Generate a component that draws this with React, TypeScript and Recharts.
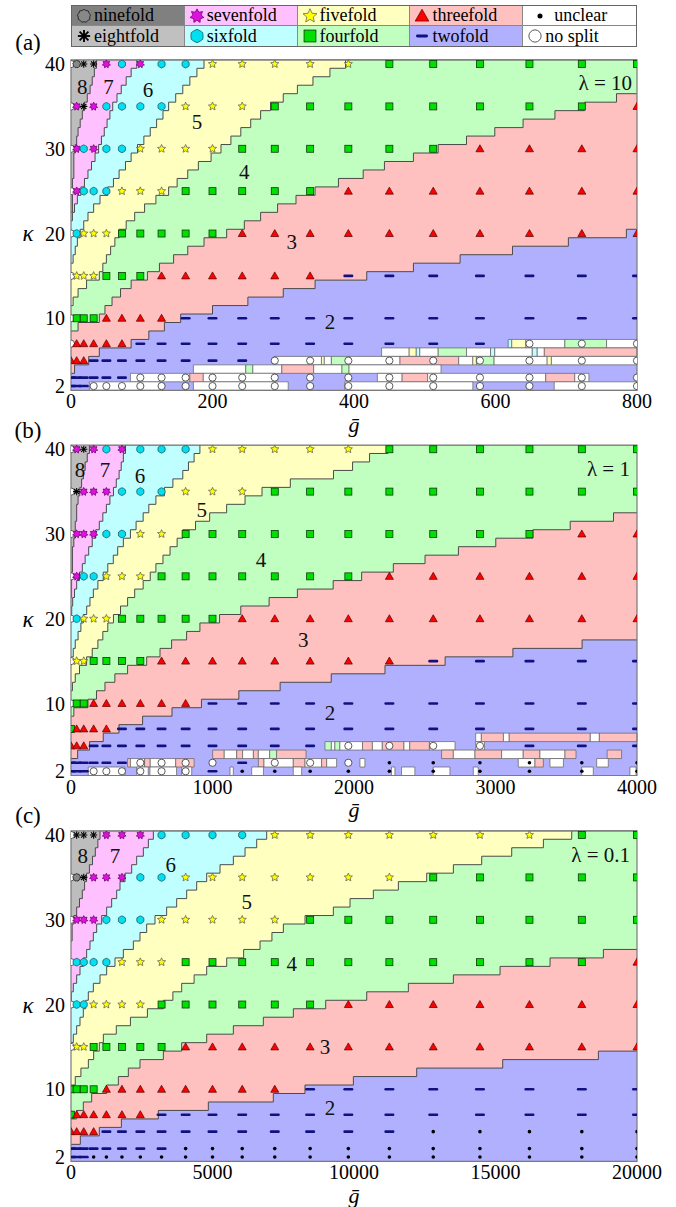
import React from 'react';
import { ComposedChart, Area, Scatter, XAxis, YAxis, ReferenceArea } from 'recharts';

const FONT = "'Liberation Serif', 'Times New Roman', Times, 'Liberation Sans', Arial, serif";

const KAPPA = [40, 35, 30, 25, 20, 15, 10, 7, 5, 3, 2];

const G_A = [0, 8, 18, 32, 50, 72, 98, 128, 162, 200, 242, 288, 338, 392, 450, 512, 578, 648, 722, 800];
const G_B = [0, 40, 90, 160, 250, 360, 490, 640, 810, 1000, 1210, 1440, 1690, 1960, 2250, 2560, 2890, 3240, 3610, 4000];
const G_C = [0, 200, 450, 800, 1250, 1800, 2450, 3200, 4050, 5000, 6050, 7200, 8450, 9800, 11250, 12800, 14450, 16200, 18050, 20000];

const TICKS_A = [0, 200, 400, 600, 800];
const TICKS_B = [0, 1000, 2000, 3000, 4000];
const TICKS_C = [0, 5000, 10000, 15000, 20000];
const Y_TICKS = [2, 10, 20, 30, 40];

// marker class per grid point, one string per kappa row (o = no split, u = unclear)
const MARKS_A = [
  'o9887676655555444444',
  'o7876666555444444443',
  'o7676655554444443333',
  'o7666555444443333333',
  'o6555444443333333333',
  'o5554443333332222222',
  'o4443333222222222222',
  'o3333322222222222ooo',
  '33322222222ooooooooo',
  '222222oooooooooooooo',
  '222ooooooooooooooooo',
];
const MARKS_B = [
  'o7876766655555444444',
  'o8777666555444444444',
  'o7776655444444444433',
  'o7665554444444333333',
  'o6555444443333333333',
  'o5544443333333322222',
  'o4433333322222222222',
  '43333222222222222222',
  '3332222222222oooo222',
  '222222oooo2ooouuuuuu',
  '222oooooo2uuuuuuuuuu',
];
const MARKS_C = [
  'o8887776666555555544',
  'o9877766555555544444',
  'o7776665555544444444',
  'o6666555444444444443',
  'o6655554444443333333',
  'o5544444333333333333',
  '44443333333322222222',
  '43333332222222222222',
  '333322222222222uuuuu',
  '22222222uuuuuuuuuuuu',
  '222uuuuuuuuuuuuuuuuu',
];

// region boundaries [g, kappa edge] (step after)
const B78_A = [[0, 22.5], [2, 26.5], [4, 29.5], [6, 30.5], [8, 31.5], [10, 32.5], [13, 33.5], [16, 34.5], [19, 35.5], [23, 36.5], [27, 37.5], [30, 38.5], [33, 39.5], [36, 40.5], [800, 40.5]];
const B67_A = [[0, 21.5], [2, 22.5], [5, 23.5], [9, 24.5], [14, 25.5], [19, 26.5], [24, 27.5], [29, 28.5], [34, 29.5], [39, 30.5], [43, 31.5], [47, 32.5], [51, 33.5], [55, 34.5], [59, 35.5], [65, 36.5], [71, 37.5], [78, 38.5], [85, 39.5], [93, 40.5], [800, 40.5]];
const B56_A = [[0, 16.5], [3, 17.5], [6, 18.5], [9, 19.5], [13, 20.5], [18, 21.5], [24, 22.5], [32, 23.5], [41, 24.5], [52, 25.5], [60, 26.5], [68, 27.5], [77, 28.5], [85, 29.5], [94, 30.5], [103, 31.5], [112, 32.5], [121, 33.5], [130, 34.5], [138, 35.5], [148, 36.5], [158, 37.5], [168, 38.5], [178, 39.5], [188, 40.5], [800, 40.5]];
const B45_A = [[0, 11.5], [3, 12.5], [10, 13.5], [22, 14.5], [40, 15.5], [45, 16.5], [50, 17.5], [56, 18.5], [62, 19.5], [68, 20.5], [78, 21.5], [90, 22.5], [104, 23.5], [120, 24.5], [138, 25.5], [150, 26.5], [165, 27.5], [180, 28.5], [198, 29.5], [212, 30.5], [226, 31.5], [240, 32.5], [254, 33.5], [268, 34.5], [282, 35.5], [300, 36.5], [320, 37.5], [342, 38.5], [366, 39.5], [388, 40.5], [800, 40.5]];
const B34_A = [[0, 8.5], [10, 9.5], [40, 10.5], [48, 11.5], [58, 12.5], [70, 13.5], [85, 14.5], [108, 15.5], [125, 16.5], [145, 17.5], [165, 18.5], [188, 19.5], [220, 20.5], [245, 21.5], [268, 22.5], [292, 23.5], [318, 24.5], [345, 25.5], [378, 26.5], [413, 27.5], [443, 28.5], [484, 29.5], [519, 30.5], [559, 31.5], [599, 32.5], [639, 33.5], [684, 34.5], [726, 35.5], [771, 36.5], [800, 36.5]];
const B23_A = [[0, 3.5], [5, 4.5], [25, 5.5], [40, 6.5], [85, 7.5], [110, 8.5], [132, 9.5], [155, 10.5], [200, 11.5], [250, 12.5], [300, 13.5], [345, 14.5], [418, 15.5], [484, 16.5], [550, 17.5], [624, 18.5], [703, 19.5], [785, 20.5], [800, 20.5]];

const B78_B = [[0, 22.5], [4, 25.5], [10, 28.5], [20, 29.5], [30, 31.5], [40, 33.5], [50, 34.5], [62, 35.5], [75, 36.5], [88, 37.5], [100, 38.5], [115, 39.5], [130, 40.5], [4000, 40.5]];
const B67_B = [[0, 20.5], [5, 21.5], [12, 22.5], [25, 23.5], [40, 24.5], [60, 25.5], [80, 26.5], [100, 27.5], [125, 28.5], [150, 29.5], [175, 30.5], [200, 31.5], [225, 32.5], [250, 33.5], [275, 34.5], [300, 35.5], [320, 36.5], [340, 37.5], [355, 38.5], [370, 39.5], [385, 40.5], [4000, 40.5]];
const B56_B = [[0, 15.5], [16, 16.5], [30, 17.5], [50, 18.5], [70, 19.5], [87, 20.5], [111, 21.5], [134, 22.5], [158, 23.5], [190, 24.5], [228, 25.5], [260, 26.5], [299, 27.5], [330, 28.5], [370, 29.5], [420, 30.5], [460, 31.5], [510, 32.5], [550, 33.5], [600, 34.5], [660, 35.5], [720, 36.5], [790, 37.5], [830, 38.5], [870, 39.5], [911, 40.5], [4000, 40.5]];
const B45_B = [[0, 11.5], [10, 12.5], [30, 13.5], [60, 14.5], [110, 15.5], [150, 16.5], [190, 17.5], [225, 18.5], [260, 19.5], [300, 20.5], [350, 21.5], [400, 22.5], [450, 23.5], [510, 24.5], [560, 25.5], [600, 26.5], [650, 27.5], [700, 28.5], [750, 29.5], [790, 30.5], [880, 31.5], [980, 32.5], [1100, 33.5], [1230, 34.5], [1350, 35.5], [1550, 36.5], [1855, 37.5], [1990, 38.5], [2110, 39.5], [2240, 40.5], [4000, 40.5]];
const B34_B = [[0, 8.5], [20, 9.5], [120, 10.5], [180, 11.5], [240, 12.5], [310, 13.5], [400, 14.5], [535, 15.5], [629, 16.5], [711, 17.5], [817, 18.5], [911, 19.5], [1050, 20.5], [1200, 21.5], [1400, 22.5], [1600, 23.5], [1853, 24.5], [2054, 25.5], [2278, 26.5], [2502, 27.5], [2738, 28.5], [3002, 29.5], [3264, 30.5], [3528, 31.5], [3834, 32.5], [4000, 32.5]];
const B23_B = [[0, 3.5], [47, 4.5], [131, 5.5], [228, 6.5], [339, 7.5], [506, 8.5], [714, 9.5], [922, 10.5], [1186, 11.5], [1478, 12.5], [1839, 13.5], [2219, 14.5], [2644, 15.5], [3123, 16.5], [3612, 17.5], [4000, 17.5]];

const B78_C = [[0, 27.5], [40, 29.5], [100, 30.5], [200, 31.5], [300, 32.5], [400, 33.5], [480, 34.5], [550, 35.5], [650, 36.5], [760, 37.5], [860, 38.5], [950, 39.5], [1025, 40.5], [20000, 40.5]];
const B67_C = [[0, 20.5], [12, 21.5], [82, 22.5], [200, 23.5], [318, 24.5], [435, 25.5], [553, 26.5], [671, 27.5], [789, 28.5], [907, 29.5], [1084, 30.5], [1260, 31.5], [1437, 32.5], [1614, 33.5], [1732, 34.5], [1909, 35.5], [2144, 36.5], [2321, 37.5], [2556, 38.5], [2733, 39.5], [2910, 40.5], [20000, 40.5]];
const B56_C = [[0, 15.5], [82, 16.5], [200, 17.5], [318, 18.5], [435, 19.5], [520, 20.5], [612, 21.5], [789, 22.5], [1025, 23.5], [1260, 24.5], [1555, 25.5], [1850, 26.5], [2203, 27.5], [2438, 28.5], [2674, 29.5], [2968, 30.5], [3380, 31.5], [3734, 32.5], [4088, 33.5], [4441, 34.5], [4795, 35.5], [5266, 36.5], [5737, 37.5], [6150, 38.5], [6562, 39.5], [6915, 40.5], [20000, 40.5]];
const B45_C = [[0, 10.5], [150, 11.5], [350, 12.5], [613, 13.5], [800, 14.5], [1000, 15.5], [1143, 16.5], [1600, 17.5], [2100, 18.5], [2700, 19.5], [3263, 20.5], [3600, 21.5], [3911, 22.5], [4350, 23.5], [4795, 24.5], [5502, 25.5], [6100, 26.5], [6680, 27.5], [7100, 28.5], [7504, 29.5], [8270, 30.5], [9270, 31.5], [9860, 32.5], [10684, 33.5], [11568, 34.5], [12569, 35.5], [13511, 36.5], [14513, 37.5], [15573, 38.5], [16692, 39.5], [17693, 40.5], [20000, 40.5]];
const B34_C = [[0, 6.5], [200, 7.5], [435, 8.5], [730, 9.5], [1260, 10.5], [1673, 11.5], [2026, 12.5], [2438, 13.5], [3263, 14.5], [3911, 15.5], [4795, 16.5], [5737, 17.5], [6797, 18.5], [7857, 19.5], [9000, 20.5], [10449, 21.5], [11921, 22.5], [13512, 23.5], [15161, 24.5], [16928, 25.5], [18812, 26.5], [20000, 26.5]];
const B23_C = [[0, 3.5], [330, 4.5], [1000, 5.5], [1780, 6.5], [3086, 7.5], [4853, 8.5], [7149, 9.5], [8268, 10.5], [9978, 11.5], [12216, 12.5], [15255, 13.5], [18636, 14.5], [20000, 14.5]];

// low-kappa patches: [g from, g to, kappa row, class]
const PATCH_A = [
  [618, 623, 7, '6'], [623, 643, 7, '5'], [643, 698, 7, 'w'], [698, 757, 7, '4'], [757, 800, 7, 'w'],
  [439, 478, 6, 'w'], [478, 488, 6, '5'], [488, 493, 6, '6'], [493, 519, 6, 'w'], [519, 559, 6, '4'], [559, 593, 6, 'w'],
  [593, 599, 6, '6'], [599, 652, 6, 'w'], [652, 659, 6, '6'], [659, 669, 6, 'w'], [669, 800, 6, '3'],
  [287, 354, 5, 'w'], [354, 358, 5, '5'], [358, 368, 5, 'w'], [368, 393, 5, '4'], [393, 465, 5, 'w'], [465, 548, 5, '3'],
  [548, 568, 5, 'w'], [568, 573, 5, '5'], [573, 598, 5, '4'], [598, 673, 5, 'w'], [673, 679, 5, '5'], [679, 800, 5, 'w'],
  [173, 247, 4, 'w'], [247, 257, 4, '4'], [257, 298, 4, 'w'], [298, 343, 4, '3'], [343, 383, 4, 'w'], [383, 393, 4, '4'], [393, 523, 4, 'w'],
  [84, 168, 3, 'w'], [168, 187, 3, '3'], [187, 287, 3, 'w'], [433, 468, 3, 'w'], [468, 504, 3, '3'], [504, 671, 3, 'w'],
  [671, 712, 3, '3'], [712, 732, 3, 'w'],
  [26, 126, 2, 'w'], [173, 307, 2, 'w'], [387, 568, 2, 'w'], [683, 800, 2, 'w'],
];
const PATCH_B = [
  [2860, 2900, 6, 'w'], [2900, 3056, 6, '3'], [3056, 3097, 6, 'w'], [3097, 3670, 6, '3'], [3670, 3734, 6, 'w'], [3734, 4000, 6, '3'],
  [1795, 1840, 5, '4'], [1840, 1865, 5, 'w'], [1865, 1900, 5, '4'], [1900, 2060, 5, 'w'], [2060, 2130, 5, '3'], [2130, 2200, 5, 'w'],
  [2200, 2353, 5, '3'], [2353, 2394, 5, 'w'], [2394, 2533, 5, '3'], [2533, 2714, 5, 'w'], [2860, 2922, 5, 'w'],
  [1001, 1083, 4, '3'], [1083, 1171, 4, 'w'], [1171, 1213, 4, '3'], [1213, 1289, 4, 'w'], [1289, 1324, 4, '3'], [1324, 1404, 4, 'w'],
  [1404, 1453, 4, '4'], [1453, 1661, 4, '3'], [2619, 2702, 4, '3'], [2702, 2855, 4, 'w'], [2855, 3043, 4, '3'], [3043, 3196, 4, 'w'],
  [3196, 3314, 4, '3'], [3314, 3491, 4, 'w'], [3491, 3569, 4, '3'], [3789, 3891, 4, '3'],
  [400, 420, 3, '3'], [420, 520, 3, 'w'], [520, 560, 3, '3'], [560, 740, 3, 'w'], [740, 870, 3, '3'], [1324, 1364, 3, '3'],
  [1364, 1571, 3, 'w'], [1571, 1654, 3, '3'], [1654, 1771, 3, 'w'], [1771, 1807, 3, '3'], [1807, 1877, 3, 'w'], [2042, 2077, 3, 'w'],
  [3161, 3279, 3, 'w'], [3279, 3338, 3, '3'], [3385, 3480, 3, 'w'], [3715, 3797, 3, 'w'],
  [122, 381, 2, 'w'], [464, 546, 2, 'w'], [558, 746, 2, 'w'], [782, 853, 2, 'w'], [1124, 1147, 2, 'w'], [1277, 1360, 2, 'w'],
  [1571, 1630, 2, 'w'], [2265, 2289, 2, 'w'], [2336, 2430, 2, 'w'], [2560, 2678, 2, 'w'], [2843, 2878, 2, 'w'], [3609, 3691, 2, 'w'],
  [3950, 3993, 2, 'w'],
];

// region numbers and lambda [text, g, kappa]
const LABELS_A = [['8', 16, 37.3], ['7', 53, 37.3], ['6', 109, 36.9], ['5', 178, 33.2], ['4', 245, 27.3], ['3', 312, 19.0], ['2', 366, 9.6]];
const LABELS_B = [['8', 64, 37.6], ['7', 240, 37.6], ['6', 488, 36.9], ['5', 924, 32.8], ['4', 1343, 26.9], ['3', 1642, 17.5], ['2', 1830, 8.9]];
const LABELS_C = [['8', 413, 37.5], ['7', 1555, 37.5], ['6', 3523, 36.5], ['5', 6208, 32.1], ['4', 7800, 24.8], ['3', 8976, 15.0], ['2', 9153, 7.8]];
const LAMBDA_A = ['λ = 10', 793, 37.8];
const LAMBDA_B = ['λ = 1', 3950, 37.7];
const LAMBDA_C = ['λ = 0.1', 19755, 37.6];

const LEGEND = [
  ['9', 'ninefold', '#808080'], ['7', 'sevenfold', '#ffc0ff'], ['5', 'fivefold', '#ffffc0'], ['3', 'threefold', '#ffc0c0'], ['u', 'unclear', '#ffffff'],
  ['8', 'eightfold', '#c0c0c0'], ['6', 'sixfold', '#c0ffff'], ['4', 'fourfold', '#c0ffc0'], ['2', 'twofold', '#b0b0ff'], ['o', 'no split', '#ffffff'],
];

const FILL: Record<string, string> = {
  '8': '#bdbdbd', '7': '#ffc0ff', '6': '#c0ffff', '5': '#ffffc0', '4': '#c0ffc0', '3': '#ffc0c0', '2': '#b0b0ff', w: '#ffffff',
};

const star = (cx: number, cy: number, n: number, ro: number, ri: number) => {
  const pts: string[] = [];
  for (let i = 0; i < 2 * n; i++) {
    const r = i % 2 ? ri : ro;
    const a = -Math.PI / 2 + (i * Math.PI) / n;
    pts.push(`${cx + r * Math.cos(a)},${cy + r * Math.sin(a)}`);
  }
  return pts.join(' ');
};

function Marker({ cx, cy, c, s = 1 }: { cx: number; cy: number; c: string; s?: number }) {
  switch (c) {
    case 'o':
      return <circle cx={cx} cy={cy} r={3.6 * s} fill="#fff" stroke="#333" strokeWidth={0.8} />;
    case '9':
      return <polygon points={star(cx, cy, 9, 3.9 * s, 3.4 * s)} fill="#888" stroke="#222" strokeWidth={0.9} />;
    case '8':
      return (
        <g stroke="#000" strokeWidth={1.1 * s}>
          <line x1={cx - 3.6 * s} y1={cy} x2={cx + 3.6 * s} y2={cy} />
          <line x1={cx} y1={cy - 3.6 * s} x2={cx} y2={cy + 3.6 * s} />
          <line x1={cx - 2.6 * s} y1={cy - 2.6 * s} x2={cx + 2.6 * s} y2={cy + 2.6 * s} />
          <line x1={cx - 2.6 * s} y1={cy + 2.6 * s} x2={cx + 2.6 * s} y2={cy - 2.6 * s} />
        </g>
      );
    case '7':
      return <polygon points={star(cx, cy, 7, 4.2 * s, 2.5 * s)} fill="#e010e0" stroke="#5a005a" strokeWidth={0.7} />;
    case '6':
      return <polygon points={star(cx, cy, 6, 3.9 * s, 3.6 * s)} fill="#00e0f0" stroke="#1a5a66" strokeWidth={0.8} />;
    case '5':
      return <polygon points={star(cx, cy, 5, 4.3 * s, 2.0 * s)} fill="#ffff00" stroke="#555" strokeWidth={0.7} />;
    case '4':
      return <rect x={cx - 3.5 * s} y={cy - 3.5 * s} width={7 * s} height={7 * s} fill="#00e000" stroke="#0a3a0a" strokeWidth={0.8} />;
    case '3':
      return (
        <polygon
          points={`${cx},${cy - 4 * s} ${cx + 4 * s},${cy + 3 * s} ${cx - 4 * s},${cy + 3 * s}`}
          fill="#ff0000"
          stroke="#500"
          strokeWidth={0.7}
        />
      );
    case '2':
      return <rect x={cx - 5 * s} y={cy - 1.3 * s} width={10 * s} height={2.6 * s} rx={1.2 * s} fill="#101080" />;
    case 'u':
      return <circle cx={cx} cy={cy} r={1.8 * s} fill="#000" />;
    default:
      return <g />;
  }
}

const textStyle = { fontSize: 20, fill: '#000', fontFamily: FONT };

function Panel({ top, mt, gs, rows, xMax, ticks, bounds, patches, labels, lambda }: any) {
  const marks: any[] = [];
  rows.forEach((row: string, i: number) => {
    for (let j = 0; j < row.length; j++) marks.push({ g: gs[j], k: KAPPA[i], c: row[j] });
  });
  const texts = [
    ...labels.map((l: any) => ({ t: l[0], g: l[1], k: l[2], a: 'middle' })),
    { t: lambda[0], g: lambda[1], k: lambda[2], a: 'end' },
  ];
  const layers: [string, number[][]][] = [
    ['8', [[0, 40.5], [xMax, 40.5]]],
    ...bounds,
  ];
  return (
    <div style={{ position: 'absolute', left: 0, top }}>
      <ComposedChart width={676} height={mt + 330.5 + 30} margin={{ top: mt, right: 39, bottom: 0, left: 0 }}>
        <XAxis
          type="number"
          dataKey="g"
          domain={[0, xMax]}
          ticks={ticks}
          interval={0}
          allowDataOverflow
          tickLine={false}
          axisLine={false}
          tickSize={0}
          tickMargin={4}
          height={30}
          tick={textStyle}
        />
        <YAxis
          type="number"
          dataKey="k"
          domain={[1.5, 40.5]}
          ticks={Y_TICKS}
          interval={0}
          allowDataOverflow
          tickLine={false}
          axisLine={false}
          tickSize={0}
          tickMargin={6}
          width={71}
          tick={textStyle}
        />
        {layers.map(([c, pts]) => (
          <Area
            key={'a' + c}
            data={pts.map(([g, k]) => ({ g, k }))}
            dataKey="k"
            type="stepAfter"
            baseValue={1.5}
            fill={FILL[c]}
            fillOpacity={1}
            stroke={c === '8' ? 'none' : '#4a4a4a'}
            strokeWidth={1}
            dot={false}
            activeDot={false}
            isAnimationActive={false}
          />
        ))}
        {patches.map(([g1, g2, k, c]: any, i: number) => (
          <ReferenceArea
            key={'p' + i}
            x1={g1}
            x2={g2}
            y1={k - 0.5}
            y2={k + 0.5}
            fill={FILL[c]}
            fillOpacity={1}
            stroke="#606060"
            strokeWidth={0.7}
            zIndex={150}
          />
        ))}
        <ReferenceArea x1={0} x2={xMax} y1={1.5} y2={40.5} fill="none" stroke="#7a7a7a" strokeWidth={1.2} zIndex={550} />
        <Scatter
          data={marks}
          isAnimationActive={false}
          shape={(p: any) => <Marker cx={p.cx} cy={p.cy} c={p.payload.c} />}
        />
        <Scatter
          data={texts}
          isAnimationActive={false}
          shape={(p: any) => (
            <text
              x={p.cx}
              y={p.cy}
              textAnchor={p.payload.a}
              dominantBaseline="central"
              fontSize={21}
              fontFamily={FONT}
              fill="#111"
            >
              {p.payload.t}
            </text>
          )}
        />
      </ComposedChart>
    </div>
  );
}

const abs = (x: number, y: number, size: number, italic = false): React.CSSProperties => ({
  position: 'absolute',
  left: x,
  top: y,
  transform: 'translate(-50%, -50%)',
  fontFamily: FONT,
  fontSize: size,
  fontStyle: italic ? 'italic' : 'normal',
  lineHeight: 1,
  whiteSpace: 'nowrap',
});

export default function App() {
  return (
    <div style={{ position: 'absolute', left: 0, top: 0, width: 676, height: 1207, background: '#fff', overflow: 'hidden' }}>
      <Panel
        top={0}
        mt={59.8}
        gs={G_A}
        rows={MARKS_A}
        xMax={800}
        ticks={TICKS_A}
        bounds={[['7', B78_A], ['6', B67_A], ['5', B56_A], ['4', B45_A], ['3', B34_A], ['2', B23_A]]}
        patches={PATCH_A}
        labels={LABELS_A}
        lambda={LAMBDA_A}
      />
      <Panel
        top={420}
        mt={25}
        gs={G_B}
        rows={MARKS_B}
        xMax={4000}
        ticks={TICKS_B}
        bounds={[['7', B78_B], ['6', B67_B], ['5', B56_B], ['4', B45_B], ['3', B34_B], ['2', B23_B]]}
        patches={PATCH_B}
        labels={LABELS_B}
        lambda={LAMBDA_B}
      />
      <Panel
        top={800}
        mt={30.8}
        gs={G_C}
        rows={MARKS_C}
        xMax={20000}
        ticks={TICKS_C}
        bounds={[['7', B78_C], ['6', B67_C], ['5', B56_C], ['4', B45_C], ['3', B34_C], ['2', B23_C]]}
        patches={[]}
        labels={LABELS_C}
        lambda={LAMBDA_C}
      />

      <div
        style={{
          position: 'absolute',
          left: 71,
          top: 5,
          width: 566,
          height: 42,
          display: 'grid',
          gridTemplateColumns: 'repeat(5, 1fr)',
          gridTemplateRows: 'repeat(2, 1fr)',
          border: '1px solid #666',
          boxSizing: 'border-box',
        }}
      >
        {LEGEND.map(([c, name, bg], i) => (
          <div
            key={name}
            style={{
              background: bg,
              display: 'flex',
              alignItems: 'center',
              paddingLeft: c === 'u' ? 9 : 4,
              borderRight: i % 5 === 4 ? 'none' : '1px solid #888',
              borderBottom: i < 5 ? '1px solid #888' : 'none',
              fontFamily: FONT,
              fontSize: 18,
              lineHeight: '19px',
              overflow: 'hidden',
              whiteSpace: 'nowrap',
              minWidth: 0,
            }}
          >
            <svg width={16} height={16} style={{ flex: 'none', marginRight: c === 'u' ? 6 : 2 }}>
              <Marker cx={8} cy={8} c={c} s={c === '2' ? 1.2 : c === 'u' ? 1.4 : 1.7} />
            </svg>
            <span>{name}</span>
          </div>
        ))}
      </div>

      <div style={abs(28, 42, 23)}>(a)</div>
      <div style={abs(28, 430, 23)}>(b)</div>
      <div style={abs(28, 815, 23)}>(c)</div>

      <div style={abs(28, 233, 23, true)}>κ</div>
      <div style={abs(28, 619, 23, true)}>κ</div>
      <div style={abs(28, 1005, 23, true)}>κ</div>

      <div style={abs(354, 425, 22, true)}>ḡ</div>
      <div style={abs(354, 810, 22, true)}>ḡ</div>
      <div style={abs(354, 1196, 22, true)}>ḡ</div>
    </div>
  );
}
